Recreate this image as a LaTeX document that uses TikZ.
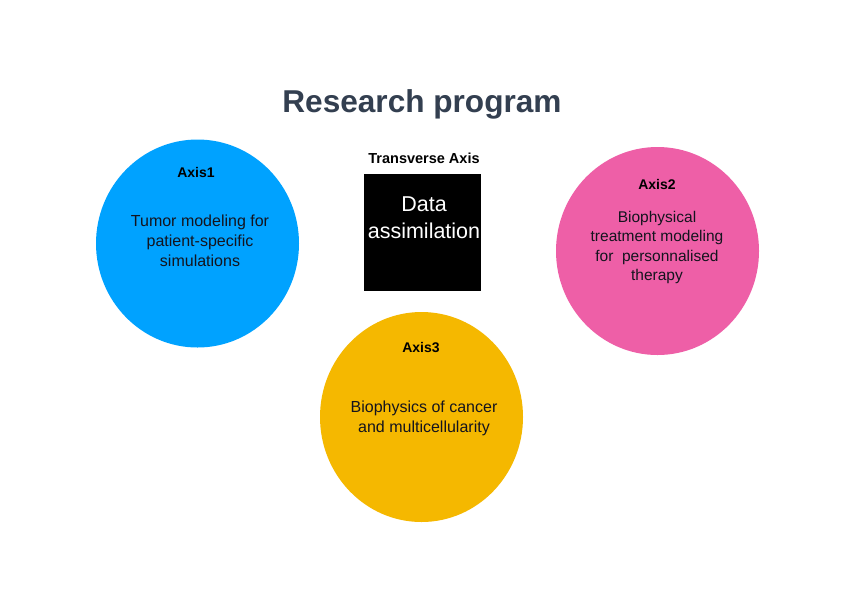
\documentclass[tikz,border=0pt]{standalone}
\usepackage{fontspec}
\setmainfont{Liberation Sans}
\usetikzlibrary{shapes.geometric}
\definecolor{axisblue}{RGB}{0,162,255}
\definecolor{axispink}{RGB}{238,95,167}
\definecolor{axisgold}{RGB}{245,184,0}
\definecolor{titleslate}{RGB}{51,63,80}
\definecolor{bodytext}{RGB}{20,20,30}
\tikzset{
  axiscircle/.style={ellipse, draw=none, inner sep=0pt, minimum width=203pt, minimum height=208pt},
  axislabel/.style={font=\fontsize{14}{17}\selectfont\bfseries, text=black, inner sep=0pt},
  axisbody/.style={font=\fontsize{16}{20}\selectfont, text=bodytext, align=center, inner sep=0pt},
}
\begin{document}
\begin{tikzpicture}[x=1pt,y=-1pt]
\useasboundingbox (0,0) rectangle (842,595);
\fill[white] (0,0) rectangle (842,595);

\node[font=\fontsize{31.6}{37}\selectfont\bfseries, text=titleslate, inner sep=0pt] (title) at (422,104) {Research program};

% Axis1
\node[axiscircle, fill=axisblue] (c1) at (197.5,243.5) {};
\node[axislabel] (l1) at (196,172) {Axis1};
\node[axisbody] (t1) at (200,241) {Tumor modeling for\\patient-specific\\simulations};

% Axis2
\node[axiscircle, fill=axispink] (c2) at (657.5,251) {};
\node[axislabel] (l2) at (657,184) {Axis2};
\node[axisbody, font=\fontsize{15.5}{19.4}\selectfont] (t2) at (657,247.5) {Biophysical\\treatment modeling\\for\ \ personnalised\\therapy};

% Axis3
\node[axiscircle, fill=axisgold, minimum height=210pt] (c3) at (421.5,417) {};
\node[axislabel] (l3) at (421,347) {Axis3};
\node[axisbody] (t3) at (424,418.5) {Biophysics of cancer\\and multicellularity};

% Transverse axis
\node[font=\fontsize{14.5}{17}\selectfont\bfseries, text=black, inner sep=0pt] (tl) at (424,158) {Transverse Axis};
\node[fill=black, minimum width=117pt, minimum height=117pt, inner sep=0pt] (sq) at (422.5,232.5) {};
\node[font=\fontsize{21.5}{27}\selectfont, text=white, align=center, inner sep=0pt] (st) at (424,217.5) {Data\\assimilation};
\end{tikzpicture}
\end{document}
